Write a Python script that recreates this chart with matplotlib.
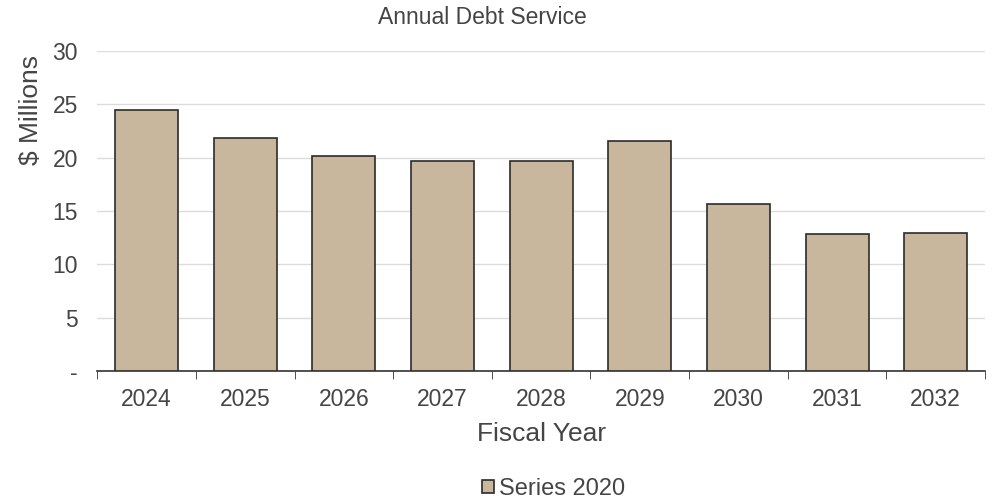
import matplotlib

matplotlib.use("Agg")
import matplotlib.pyplot as plt  # noqa: E402
import numpy as np  # noqa: E402
from matplotlib.patches import Patch  # noqa: E402

years = ["2024", "2025", "2026", "2027", "2028", "2029", "2030", "2031", "2032"]
debt_service = [24.5, 21.85, 20.2, 19.7, 19.7, 21.6, 15.7, 12.8, 12.95]
y_ticks = [0, 5, 10, 15, 20, 25, 30]
y_tick_labels = ["-", "5", "10", "15", "20", "25", "30"]

plt.rcParams["font.family"] = ["Liberation Sans", "DejaVu Sans"]
TEXT = "#454545"
BAR = "#c8b69d"

fig = plt.figure(figsize=(9.92, 5.0), dpi=100)
ax = fig.add_axes([0.098, 0.258, 0.895, 0.64])

x = np.arange(len(years))
ax.bar(x, debt_service, width=0.64, color=BAR, edgecolor="#2b2b2b", linewidth=1.2, zorder=3)

ax.set_xlim(-0.5, len(years) - 0.5)
ax.set_ylim(0, 30)
ax.set_yticks(y_ticks)
ax.set_yticklabels(y_tick_labels)
ax.yaxis.grid(True, color="#dcdcdc", linewidth=1.0, zorder=0)
ax.tick_params(axis="y", length=0, pad=14, labelsize=16.5, labelcolor=TEXT)

# year labels at bar centres, tick marks on the category boundaries
ax.set_xticks(x)
ax.set_xticklabels(years)
ax.tick_params(axis="x", which="major", length=0, pad=12, labelsize=16.5, labelcolor=TEXT)
ax.set_xticks(np.arange(-0.5, len(years)), minor=True)
ax.tick_params(axis="x", which="minor", length=6, direction="out", color="#333333")

for side in ("left", "right", "top"):
    ax.spines[side].set_visible(False)
ax.spines["bottom"].set_color("#333333")
ax.spines["bottom"].set_linewidth(1.2)

ax.set_xlabel("Fiscal Year", fontsize=19, color=TEXT, labelpad=8)
fig.text(0.031, 0.78, "$ Millions", rotation=90, ha="center", va="center",
         fontsize=19, color=TEXT)
fig.text(0.486, 0.964, "Annual Debt Service", ha="center", va="center",
         fontsize=16.5, color=TEXT)

handle = Patch(facecolor=BAR, edgecolor="#2b2b2b", linewidth=1.2)
fig.legend([handle], ["Series 2020"], loc="center", bbox_to_anchor=(0.558, 0.022),
           frameon=False, fontsize=17, labelcolor=TEXT, handlelength=0.5,
           handleheight=0.5, handletextpad=0.2)

fig.savefig("out.png", dpi=100)
plt.close(fig)
